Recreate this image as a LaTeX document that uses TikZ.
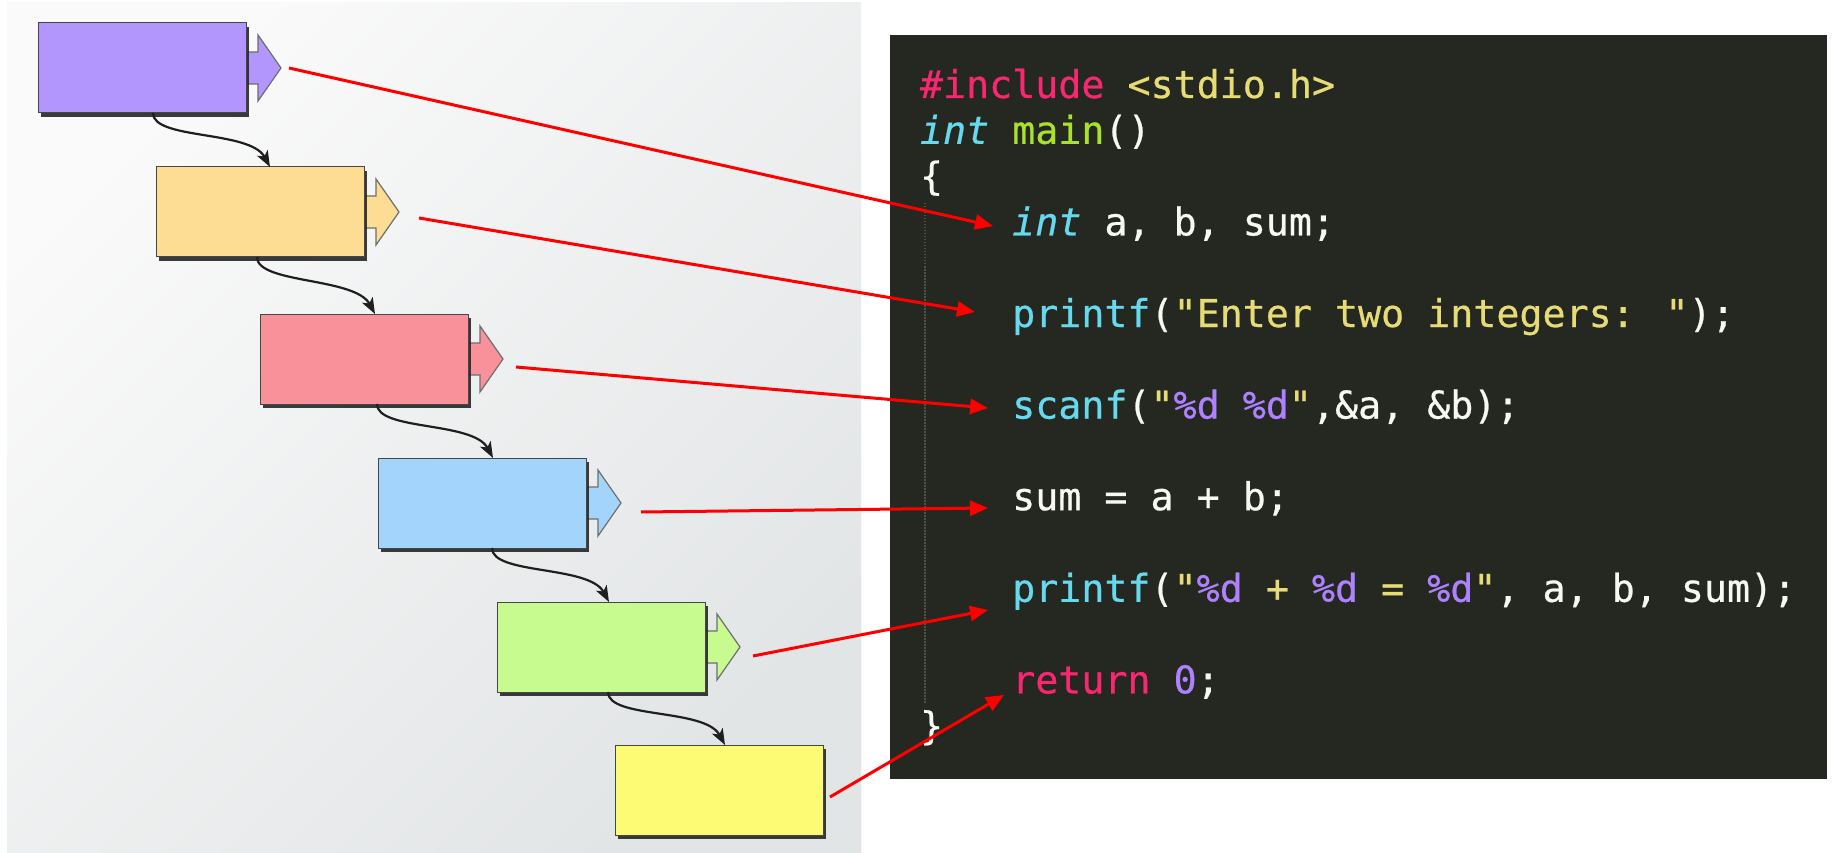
\documentclass[tikz,border=0pt]{standalone}
\usepackage{fontspec}
\usetikzlibrary{arrows.meta,shadows,calc}
\newfontfamily\codefont{DejaVu Sans Mono}[ItalicFont={DejaVu Sans Mono Oblique},WordSpace={1,0,0},Ligatures=TeXOff,FakeBold=0.6]
\definecolor{mkbg}{RGB}{36,40,32}
\definecolor{mkpink}{HTML}{F92672}
\definecolor{mkyel}{HTML}{E6DB74}
\definecolor{mkcyan}{HTML}{66D9EF}
\definecolor{mkgreen}{HTML}{A6E22E}
\definecolor{mkpurp}{HTML}{AE81FF}
\definecolor{mkwhite}{HTML}{F8F8F2}
\definecolor{mkguide}{RGB}{80,83,74}
\definecolor{bxpurple}{HTML}{B296FD}
\definecolor{bxorange}{HTML}{FCDD93}
\definecolor{bxred}{HTML}{F8919A}
\definecolor{bxblue}{HTML}{A3D4FC}
\definecolor{bxgreen}{HTML}{C8FB8F}
\definecolor{bxyellow}{HTML}{FDFB74}
\definecolor{bxedge}{RGB}{70,70,70}
\definecolor{arredge}{RGB}{110,110,110}
\definecolor{pantop}{RGB}{250,250,250}
\definecolor{panbot}{RGB}{226,229,230}
\pgfdeclarelayer{back}
\pgfdeclarelayer{arr}
\pgfsetlayers{back,arr,main}
\newcommand\blockarr[2]{%
  \begin{pgfonlayer}{arr}
  \draw[barrow, fill=#2] ($(#1.east)+(0,-16)$) -- ++(12,0) -- ++(0,-17) -- ++(23,33) -- ++(-23,33) -- ++(0,-17) -- ++(-12,0) -- cycle;
  \end{pgfonlayer}}
\begin{document}
\begin{tikzpicture}[x=1pt,y=-1pt,
  box/.style={draw=bxedge, line width=1pt, minimum width=208pt, minimum height=90pt,
    inner sep=0pt, outer sep=0pt, anchor=north west,
    drop shadow={shadow xshift=3pt, shadow yshift=-4pt, fill=black!85, opacity=0.9}},
  barrow/.style={draw=arredge, line width=1.2pt, line join=miter},
  flow/.style={line width=2.2pt, black!88, -{Stealth[length=16pt,width=12pt,inset=4pt]}},
  ptr/.style={line width=3pt, red, -{Triangle[length=18pt,width=15pt]}},
  code/.style={anchor=base west, inner sep=0pt, outer sep=0pt, text=mkwhite,
    font=\codefont\fontsize{38.3pt}{45.8pt}\selectfont}]
\useasboundingbox (0,0) rectangle (1832,853);
\begin{pgfonlayer}{back}
\fill[white] (0,0) rectangle (1832,853);
\shade[top color=pantop, bottom color=panbot, shading angle=45] (7,3) rectangle (861,853);
\fill[mkbg] (890,35) rectangle (1827,779);
\draw[mkguide, line width=1.5pt, dash pattern=on 1.5pt off 1.5pt] (925,203) -- (925,703);
\end{pgfonlayer}

% boxes
\node[box, fill=bxpurple] (b1) at (38,23) {};
\node[box, fill=bxorange] (b2) at (156,167) {};
\node[box, fill=bxred]    (b3) at (260,314) {};
\node[box, fill=bxblue]   (b4) at (378,458) {};
\node[box, fill=bxgreen]  (b5) at (497,602) {};
\node[box, fill=bxyellow] (b6) at (615,745) {};

\blockarr{b1}{bxpurple}
\blockarr{b2}{bxorange}
\blockarr{b3}{bxred}
\blockarr{b4}{bxblue}
\blockarr{b5}{bxgreen}

% flow connectors
\draw[flow] ([xshift=115pt]b1.south west) .. controls +(0,27) and +(-20,-37) .. ([xshift=114pt]b2.north west);
\draw[flow] ([xshift=101pt]b2.south west) .. controls +(0,27) and +(-20,-37) .. ([xshift=115pt]b3.north west);
\draw[flow] ([xshift=117pt]b3.south west) .. controls +(0,27) and +(-20,-37) .. ([xshift=115pt]b4.north west);
\draw[flow] ([xshift=114pt]b4.south west) .. controls +(0,27) and +(-20,-37) .. ([xshift=112pt]b5.north west);
\draw[flow] ([xshift=111pt]b5.south west) .. controls +(0,27) and +(-20,-37) .. ([xshift=110pt]b6.north west);

% code
\node[code] (c0) at (920,98) {\textcolor{mkpink}{\#include} \textcolor{mkyel}{<stdio.h>}};
\node[code] (c1) at (920,143.8) {\textcolor{mkcyan}{\itshape int} \textcolor{mkgreen}{main}()};
\node[code] (c2) at (920,189.6) {\{};
\node[code] (c3) at (1012.2,235.4) {\textcolor{mkcyan}{\itshape int} a, b, sum;};
\node[code] (c5) at (1012.2,327) {\textcolor{mkcyan}{printf}(\textcolor{mkyel}{"Enter two integers: "});};
\node[code] (c7) at (1012.2,418.6) {\textcolor{mkcyan}{scanf}(\textcolor{mkyel}{"\textcolor{mkpurp}{\%d} \textcolor{mkpurp}{\%d}"},\&a, \&b);};
\node[code] (c9) at (1012.2,510.2) {sum = a + b;};
\node[code] (c11) at (1012.2,601.8) {\textcolor{mkcyan}{printf}(\textcolor{mkyel}{"\textcolor{mkpurp}{\%d} + \textcolor{mkpurp}{\%d} = \textcolor{mkpurp}{\%d}"}, a, b, sum);};
\node[code] (c13) at (1012.2,693.4) {\textcolor{mkpink}{return} \textcolor{mkpurp}{0};};
\node[code] (c14) at (920,739.2) {\}};

% pointer ends
\coordinate (s1) at (289,68);   \coordinate (e1) at (993,226);
\coordinate (s2) at (419,218);  \coordinate (e2) at (975,312);
\coordinate (s3) at (516,367);  \coordinate (e3) at (988,408);
\coordinate (s4) at (641,512);  \coordinate (e4) at (988,508);
\coordinate (s5) at (753,656);  \coordinate (e5) at (988,610);
\coordinate (s6) at (830,797);  \coordinate (e6) at (1004,695);
\draw[ptr] (s1) -- (e1);
\draw[ptr] (s2) -- (e2);
\draw[ptr] (s3) -- (e3);
\draw[ptr] (s4) -- (e4);
\draw[ptr] (s5) -- (e5);
\draw[ptr] (s6) -- (e6);
\end{tikzpicture}
\end{document}
